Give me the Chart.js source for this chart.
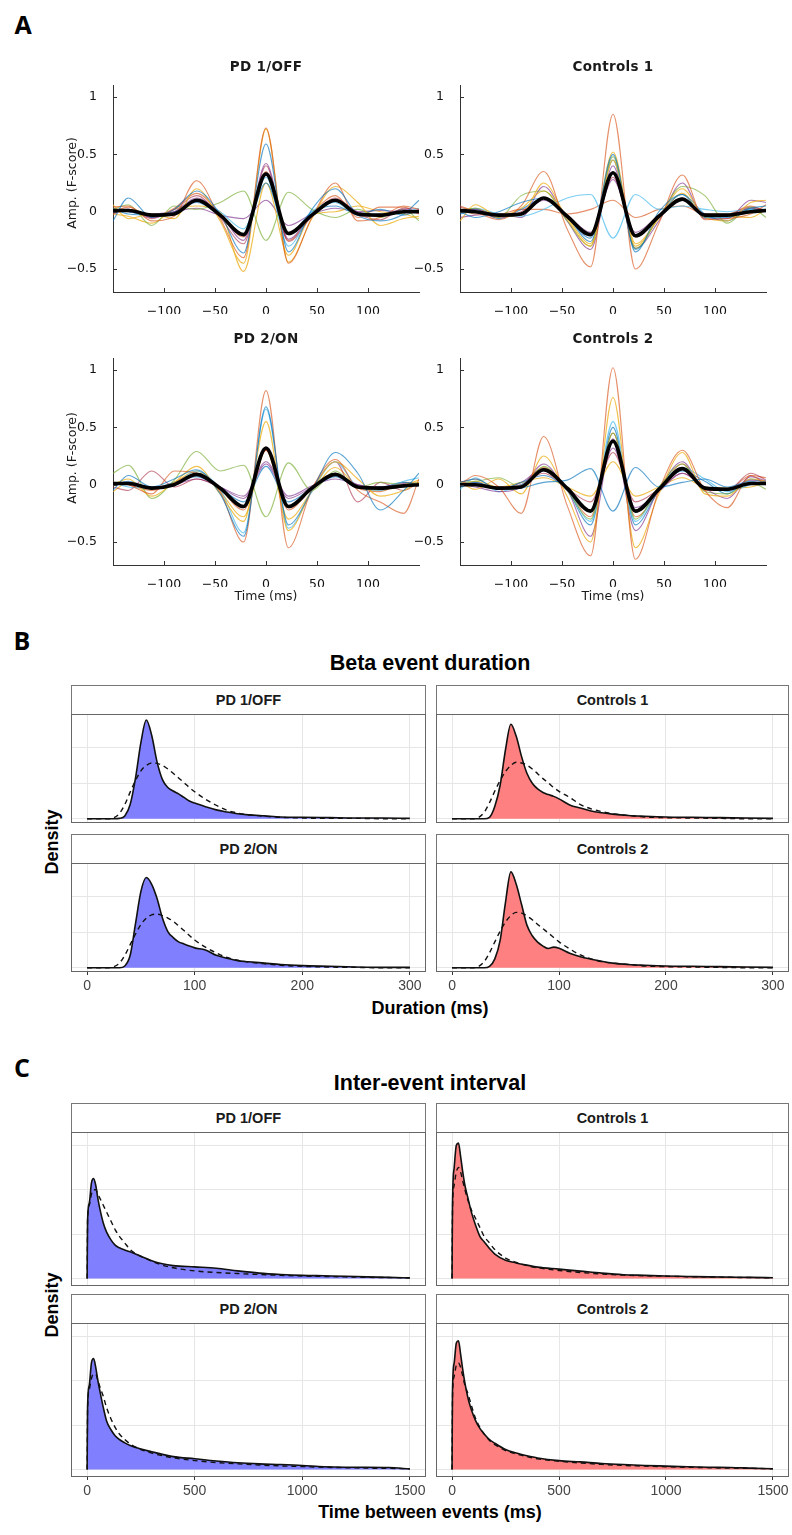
<!DOCTYPE html>
<html>
<head>
<meta charset="utf-8">
<script src="https://cdn.jsdelivr.net/npm/chart.js@4.4.0/dist/chart.umd.min.js"></script>
<style>
  html,body{margin:0;padding:0;background:#fff;}
  body{position:relative;width:792px;height:1535px;overflow:hidden;font-family:'Liberation Sans',Arial,sans-serif;}
  canvas{position:absolute;}
  .strip{position:absolute;box-sizing:border-box;background:#fff;border:1px solid #777;border-bottom:1px solid #222;
    font:bold 14.5px 'Liberation Sans',Arial,sans-serif;color:#1a1a1a;text-align:center;}
</style>
</head>
<body>
<script>
// ---- panel A: beta waveforms (time grid at the oscillation extrema) ----
const tA = [-150,-135,-112,-90,-68,-45,-22,0,22,45,68,90,112,135,150];
const aXTicks = [-100,-50,0,50,100];
const aYTicks = [-0.5,0,0.5,1];

const meanPd1 = [0.01,0.01,-0.03,-0.02,0.10,-0.03,-0.20,0.33,-0.19,-0.03,0.10,-0.02,-0.03,0.00,0.00];
const meanCon1 = [0.01,0.00,-0.03,-0.02,0.12,-0.04,-0.20,0.34,-0.21,-0.04,0.11,-0.03,-0.03,0.00,0.01];
const meanPd2 = [0.01,0.01,-0.03,0.00,0.09,-0.03,-0.19,0.32,-0.19,-0.03,0.09,-0.02,-0.03,-0.01,0.00];
const meanCon2 = [0.00,0.00,-0.03,-0.02,0.13,-0.03,-0.23,0.38,-0.23,-0.04,0.14,-0.03,-0.04,0.01,0.01];

const subjPd1 = [
  [-0.08,0.12,-0.05,0.02,0.18,-0.02,-0.36,0.59,-0.35,0.02,0.20,-0.03,-0.08,-0.02,0.10],
  [0.04,0.05,-0.08,-0.04,0.27,-0.06,-0.40,0.73,-0.45,-0.05,0.25,-0.08,-0.05,0.05,0.02],
  [0.06,-0.06,-0.02,-0.06,0.20,-0.08,-0.45,0.72,-0.44,-0.06,0.22,0.08,-0.12,-0.06,-0.04],
  [0.00,0.02,-0.05,0.00,0.12,-0.02,-0.25,0.42,-0.24,-0.02,0.10,0.00,-0.03,0.02,0.00],
  [0.02,0.06,-0.12,0.05,0.02,0.08,0.18,-0.25,0.17,0.02,-0.05,0.02,-0.05,0.02,-0.08],
  [0.02,0.00,-0.04,-0.02,0.10,0.00,-0.15,0.30,-0.30,0.00,0.08,-0.03,-0.02,0.00,0.03],
  [-0.02,0.02,-0.06,0.02,0.14,-0.05,-0.28,0.40,-0.26,-0.04,0.12,-0.02,-0.07,0.03,0.02],
  [0.03,-0.02,-0.03,0.00,0.08,-0.03,-0.20,0.25,-0.20,0.00,0.05,-0.02,0.02,-0.03,0.02],
  [0.00,0.04,-0.05,0.03,0.16,-0.02,-0.22,0.35,-0.25,-0.02,0.14,-0.05,0.04,0.04,-0.02],
  [-0.02,-0.04,-0.10,0.02,0.05,0.00,-0.52,0.25,-0.38,-0.03,0.00,0.05,0.00,-0.02,-0.06],
  [0.02,0.00,-0.02,0.00,0.03,-0.03,-0.06,0.10,-0.12,-0.02,0.03,0.00,0.01,0.00,0.01]
];
const subjCon1 = [
  [0.00,-0.05,0.00,0.08,0.12,-0.05,-0.23,0.50,-0.35,0.00,0.15,-0.05,-0.05,0.03,0.05],
  [0.05,0.00,-0.07,0.05,0.35,-0.15,-0.48,0.85,-0.50,-0.10,0.32,-0.07,-0.06,-0.02,0.06],
  [-0.08,0.06,-0.04,-0.03,0.25,-0.06,-0.30,0.45,-0.30,-0.05,0.20,-0.05,-0.08,0.08,0.10],
  [0.00,0.02,-0.03,-0.02,0.10,-0.03,-0.18,0.28,-0.18,-0.03,0.10,-0.02,-0.03,0.03,0.00],
  [0.02,0.03,-0.05,0.14,0.18,-0.08,-0.30,0.48,-0.32,-0.05,0.22,0.14,-0.10,0.04,-0.05],
  [0.00,0.03,-0.02,-0.04,0.02,0.12,0.15,-0.23,0.15,0.02,0.05,0.02,0.00,0.02,0.00],
  [0.04,0.00,-0.05,0.00,0.12,-0.03,-0.20,0.30,-0.22,-0.03,0.12,-0.04,-0.03,0.04,0.01],
  [-0.02,0.02,-0.06,0.02,0.12,-0.04,-0.26,0.45,-0.33,-0.04,0.15,-0.02,-0.08,0.02,0.02],
  [0.02,-0.02,-0.02,0.02,0.02,-0.02,0.02,0.10,-0.05,0.02,0.05,-0.02,-0.02,0.05,0.00],
  [0.00,0.03,-0.04,0.03,0.18,-0.05,-0.28,0.52,-0.28,-0.06,0.16,-0.05,-0.04,-0.05,0.02],
  [-0.05,-0.03,-0.02,-0.05,0.22,-0.08,-0.33,0.40,-0.32,-0.08,0.25,-0.06,-0.06,0.10,0.08]
];
const subjPd2 = [
  [-0.05,0.08,-0.02,0.05,0.13,-0.08,-0.45,0.68,-0.35,-0.05,0.28,0.10,-0.22,-0.05,0.10],
  [0.02,0.00,-0.08,0.12,0.10,-0.06,-0.50,0.82,-0.55,-0.04,0.22,-0.05,-0.15,-0.25,0.05],
  [0.00,0.05,-0.10,0.02,0.16,-0.08,-0.32,0.55,-0.40,-0.05,0.20,0.05,-0.10,-0.05,0.02],
  [0.00,0.02,-0.03,0.00,0.08,-0.02,-0.12,0.18,-0.12,-0.02,0.08,0.00,-0.02,0.00,0.00],
  [0.10,0.17,-0.12,0.04,0.29,0.12,0.17,-0.28,0.19,-0.05,0.12,-0.02,0.02,0.00,0.02],
  [0.02,-0.02,-0.03,0.00,0.12,-0.04,-0.42,0.66,-0.38,-0.06,0.20,-0.02,-0.05,0.03,0.06],
  [-0.02,-0.05,0.12,-0.02,0.05,-0.03,-0.20,0.30,-0.20,-0.02,0.20,-0.15,0.02,-0.05,0.02],
  [0.00,0.03,-0.03,0.02,0.07,-0.03,-0.15,0.16,-0.15,-0.03,0.07,-0.02,-0.02,0.02,0.00],
  [0.02,0.00,-0.05,0.02,0.10,-0.04,-0.22,0.30,-0.22,-0.03,0.10,-0.03,-0.06,0.02,0.01],
  [-0.06,0.02,-0.04,0.02,0.12,-0.06,-0.28,0.30,-0.30,-0.06,0.15,-0.02,-0.05,0.00,0.04],
  [0.00,0.01,-0.02,0.00,0.05,-0.02,-0.10,0.20,-0.10,-0.01,0.05,0.00,-0.02,0.01,0.00]
];
const subjCon2 = [
  [0.02,0.05,-0.04,-0.03,0.02,0.04,0.14,-0.23,0.15,-0.02,0.02,0.05,-0.02,0.03,0.00],
  [0.00,0.08,-0.02,-0.25,0.42,-0.18,-0.62,1.02,-0.65,-0.05,0.30,-0.05,-0.20,0.08,0.00],
  [0.02,-0.04,0.05,-0.08,0.25,-0.10,-0.50,0.76,-0.55,-0.08,0.28,-0.08,-0.10,0.05,0.03],
  [0.00,-0.02,-0.06,-0.02,0.18,-0.05,-0.22,0.32,-0.20,-0.06,0.10,-0.03,-0.12,0.07,0.03],
  [0.02,0.03,0.06,-0.02,0.16,-0.05,-0.30,0.45,-0.30,-0.02,0.18,-0.06,-0.08,0.02,-0.04],
  [-0.04,0.06,-0.06,0.00,0.12,-0.03,-0.32,0.55,-0.32,-0.02,0.15,0.05,-0.06,0.00,0.04],
  [0.03,0.00,-0.02,0.00,0.10,-0.03,-0.15,0.28,-0.15,-0.04,0.10,-0.02,-0.05,0.10,0.04],
  [-0.02,0.02,-0.04,0.02,0.08,-0.05,-0.35,0.50,-0.35,-0.05,0.12,0.03,-0.08,0.05,0.02],
  [0.02,0.05,-0.04,0.00,0.15,-0.04,-0.28,0.45,-0.28,-0.06,0.18,-0.05,-0.05,0.08,0.06],
  [0.00,0.03,-0.02,0.02,0.06,-0.02,-0.10,0.20,-0.10,-0.02,0.06,-0.02,-0.03,-0.02,0.02],
  [0.00,0.02,-0.04,0.02,0.14,-0.04,-0.45,0.40,-0.40,-0.04,0.20,-0.04,-0.05,0.04,0.03]
];

// ---- panel B: beta event duration densities ----
const bX = [0,20,25,30,35,40,45,50,55,60,65,70,75,80,85,90,95,100,110,120,130,140,150,165,180,200,225,250,275,300];
const bXTicks = [0,100,200,300];
const bYGrid = [0,0.01,0.02];
const bPd1 = [0,0,0,0.0001,0.0008,0.0040,0.0115,0.0215,0.0278,0.0235,0.0160,0.0110,0.0088,0.0078,0.0070,0.0060,0.0050,0.0044,0.0034,0.0025,0.0019,0.0014,0.0011,0.0008,0.0005,0.0004,0.0003,0.0002,0.0002,0.0001];
const bPd1Fit = [0,0,0.0003,0.0015,0.0040,0.0075,0.0108,0.0135,0.0150,0.0157,0.0156,0.0150,0.0140,0.0128,0.0115,0.0102,0.0088,0.0076,0.0055,0.0038,0.0024,0.0016,0.0011,0.0007,0.0004,0.0002,0.0001,0.0001,0,0];
const bCon1 = [0,0,0,0,0.0004,0.0035,0.0095,0.0195,0.0266,0.0232,0.0175,0.0128,0.0100,0.0084,0.0074,0.0068,0.0063,0.0056,0.0039,0.0030,0.0022,0.0017,0.0013,0.0009,0.0007,0.0005,0.0004,0.0003,0.0002,0.0001];
const bCon1Fit = [0,0,0.0004,0.0018,0.0045,0.0078,0.0108,0.0133,0.0150,0.0159,0.0157,0.0151,0.0140,0.0127,0.0113,0.0101,0.0088,0.0077,0.0060,0.0040,0.0028,0.0020,0.0014,0.0009,0.0005,0.0003,0.0002,0.0001,0,0];
const bPd2 = [0,0,0,0,0.0005,0.0035,0.0125,0.0215,0.0254,0.0235,0.0195,0.0140,0.0102,0.0085,0.0073,0.0067,0.0061,0.0056,0.0050,0.0035,0.0027,0.0020,0.0017,0.0013,0.0009,0.0006,0.0004,0.0002,0.0001,0.0001];
const bPd2Fit = [0,0,0.0003,0.0013,0.0035,0.0065,0.0095,0.0122,0.0140,0.0149,0.0151,0.0147,0.0140,0.0131,0.0118,0.0105,0.0091,0.0078,0.0058,0.0042,0.0029,0.0021,0.0016,0.0011,0.0007,0.0004,0.0002,0.0001,0,0];
const bCon2 = [0,0,0,0,0.0004,0.0025,0.0078,0.0185,0.0270,0.0235,0.0178,0.0120,0.0090,0.0072,0.0061,0.0054,0.0058,0.0055,0.0041,0.0031,0.0024,0.0018,0.0013,0.0009,0.0007,0.0005,0.0004,0.0003,0.0002,0.0001];
const bCon2Fit = [0,0,0.0004,0.0017,0.0042,0.0073,0.0103,0.0129,0.0147,0.0156,0.0154,0.0146,0.0135,0.0122,0.0110,0.0098,0.0085,0.0073,0.0053,0.0036,0.0025,0.0017,0.0013,0.0009,0.0005,0.0003,0.0002,0.0001,0,0];

// ---- panel C: inter-event interval densities ----
const cX = [0,2,10,20,30,40,50,60,75,90,110,130,150,175,200,250,300,350,400,500,600,700,800,900,1000,1100,1200,1300,1400,1500];
const cXTicks = [0,500,1000,1500];
const cYGrid = [0,0.002,0.004,0.006];
const cPd1 = [0,0.0026,0.0034,0.0043,0.0045,0.0042,0.0036,0.0031,0.0025,0.0021,0.00175,0.0015,0.00138,0.00128,0.0012,0.001,0.0008,0.00066,0.00058,0.00052,0.00046,0.00034,0.00024,0.00018,0.00014,0.00012,0.0001,0.00007,0.00005,0.00002];
const cPd1Fit = [0,0.0026,0.0033,0.0038,0.0040,0.0040,0.0038,0.0036,0.0033,0.0030,0.0026,0.0022,0.0019,0.0016,0.0013,0.0010,0.00078,0.0006,0.00048,0.00034,0.00027,0.00022,0.00018,0.00014,0.00011,0.00009,0.00007,0.00005,0.00004,0.00003];
const cCon1 = [0,0.0033,0.0050,0.0060,0.0061,0.0055,0.0048,0.0042,0.0036,0.0030,0.0024,0.0019,0.00165,0.00135,0.0011,0.00082,0.0007,0.0006,0.00051,0.00042,0.00033,0.00024,0.00017,0.00014,0.00011,0.00009,0.00007,0.00006,0.00005,0.00003];
const cCon1Fit = [0,0.0030,0.0042,0.0048,0.0050,0.0048,0.0044,0.0040,0.0035,0.0031,0.0027,0.0023,0.0019,0.0016,0.0013,0.00092,0.00072,0.00058,0.00048,0.00036,0.00027,0.0002,0.00015,0.00012,0.0001,0.00008,0.00007,0.00005,0.00004,0.00003];
const cPd2 = [0,0.0028,0.0038,0.0048,0.0050,0.0046,0.0040,0.0035,0.0028,0.0022,0.0018,0.00152,0.00135,0.0012,0.00108,0.00092,0.0008,0.00068,0.00058,0.00048,0.00038,0.0003,0.00025,0.00022,0.00018,0.00012,0.0001,0.0001,0.00009,0.00002];
const cPd2Fit = [0,0.0027,0.0036,0.0041,0.0043,0.0043,0.0040,0.0037,0.0033,0.0028,0.0023,0.0019,0.0016,0.00135,0.00115,0.0009,0.00074,0.00062,0.00052,0.0004,0.00031,0.00025,0.0002,0.00016,0.00013,0.0001,0.00008,0.00006,0.00005,0.00003];
const cCon2 = [0,0.0035,0.0048,0.0057,0.0058,0.0052,0.0045,0.0039,0.0032,0.0027,0.0022,0.00185,0.0016,0.00135,0.00118,0.0009,0.00074,0.00062,0.00052,0.0004,0.00034,0.00027,0.00022,0.00018,0.00015,0.00012,0.0001,0.00009,0.00006,0.00003];
const cCon2Fit = [0,0.0032,0.0042,0.0047,0.0048,0.0046,0.0042,0.0038,0.0034,0.0029,0.0023,0.0019,0.0016,0.0013,0.00112,0.00085,0.0007,0.00058,0.00048,0.00037,0.00029,0.00023,0.00018,0.00015,0.00012,0.0001,0.00008,0.00006,0.00005,0.00003];

const groupNames = ['PD 1/OFF','Controls 1','PD 2/ON','Controls 2'];

// ---- helpers ----
const traceCols = ['rgba(0,114,189,0.65)','rgba(217,83,25,0.65)','rgba(237,177,32,0.8)','rgba(126,47,142,0.65)',
  'rgba(119,172,48,0.65)','rgba(77,190,238,0.75)','rgba(162,20,47,0.55)'];
const pdFill = 'rgba(128,128,255,1)';
const conFill = 'rgba(255,128,128,1)';

const pts = (xs, ys)=> xs.map((x,i)=>({x, y: ys[i]}));
const fixTicks = (vals)=> (s)=>{ s.ticks = vals.map(v=>({value:v})); };

function addCanvas(left, top, w, h){
  const c = document.createElement('canvas');
  c.width = w; c.height = h;
  c.style.left = left + 'px'; c.style.top = top + 'px';
  document.body.appendChild(c);
  return c;
}

function label(text, x, y, css, rot){
  const d = document.createElement('div');
  d.textContent = text;
  d.style.cssText = 'position:absolute;white-space:nowrap;left:'+x+'px;top:'+y+'px;transform:translate(-50%,-50%)'+(rot?' rotate(-90deg)':'')+';'+css;
  document.body.appendChild(d);
}

function strip(text, left, top, w){
  const d = document.createElement('div');
  d.className = 'strip';
  d.textContent = text;
  d.style.cssText = 'left:'+left+'px;top:'+top+'px;width:'+w+'px;height:30px;line-height:28px;';
  document.body.appendChild(d);
}

// MATLAB-like inward ticks
const inTicks = {
  id: 'inTicks',
  afterDraw(chart){
    const {ctx, chartArea:a, scales:{x, y}} = chart;
    ctx.save();
    ctx.strokeStyle = '#333'; ctx.lineWidth = 1;
    ctx.beginPath();
    x.ticks.forEach(t=>{ const px = Math.round(x.getPixelForValue(t.value)) + 0.5; ctx.moveTo(px, a.bottom); ctx.lineTo(px, a.bottom - 4); });
    y.ticks.forEach(t=>{ const py = Math.round(y.getPixelForValue(t.value)) + 0.5; ctx.moveTo(a.left, py); ctx.lineTo(a.left + 4, py); });
    ctx.stroke();
    ctx.restore();
  }
};

// ggplot panel border
const panelBox = {
  id: 'panelBox',
  afterDraw(chart){
    const {ctx, chartArea:a} = chart;
    ctx.save();
    ctx.strokeStyle = '#666'; ctx.lineWidth = 1;
    ctx.strokeRect(a.left + 0.5, a.top + 0.5, a.width - 1, a.height - 1);
    ctx.restore();
  }
};

const minusFmt = (v)=> String(v).replace('-', '\u2212');

function waveChart(left, top, traces, mean){
  const cv = addCanvas(left, top, 365, 245);
  const datasets = [{data: pts(tA, mean), borderColor:'#000', borderWidth:3.6}];
  traces.forEach((tr, i)=> datasets.push({data: pts(tA, tr), borderColor: traceCols[i % traceCols.length], borderWidth: 1.1}));
  const tickFont = {family:'DejaVu Sans', size:12.5};
  new Chart(cv, {
    type: 'line',
    data: {datasets},
    options: {
      responsive: false, animation: false,
      layout: {padding: {left:0, top:7, right:6, bottom:1}},
      plugins: {legend:{display:false}, tooltip:{enabled:false}},
      elements: {point:{radius:0}, line:{cubicInterpolationMode:'monotone'}},
      scales: {
        x: {type:'linear', min:-150, max:150, afterBuildTicks: fixTicks(aXTicks),
            grid:{display:false}, border:{display:true, color:'#333', width:1},
            ticks:{padding:4, color:'#111', font:tickFont, callback:minusFmt},
            afterFit:(s)=>{ s.height = 22; }},
        y: {type:'linear', min:-0.7, max:1.1, afterBuildTicks: fixTicks(aYTicks),
            grid:{display:false}, border:{display:true, color:'#333', width:1},
            ticks:{padding:8, color:'#111', font:tickFont, callback:minusFmt},
            afterFit:(s)=>{ s.width = 53; }}
      }
    },
    plugins: [inTicks]
  });
}

function densChart(left, top, w, h, xs, solid, fit, fillCol, xr, yr, xTicks, yGrid, bottomRow){
  const cv = addCanvas(left, top, w + 20, h + (bottomRow ? 22 : 0));
  new Chart(cv, {
    type: 'line',
    data: {datasets: [
      {data: pts(xs, fit), borderColor:'#111', borderWidth:1.4, borderDash:[5,4], fill:false},
      {data: pts(xs, solid), borderColor:'#111', borderWidth:1.6, fill:'origin', backgroundColor: fillCol}
    ]},
    options: {
      responsive: false, animation: false,
      layout: {padding: {left:0, top:0, right:20, bottom:0}},
      plugins: {legend:{display:false}, tooltip:{enabled:false}},
      elements: {point:{radius:0}, line:{cubicInterpolationMode:'monotone'}},
      scales: {
        x: {type:'linear', min:xr[0], max:xr[1], afterBuildTicks: fixTicks(xTicks),
            grid:{color:'#e6e6e6', lineWidth:1, drawTicks:bottomRow, tickLength:3, tickColor:'#333'},
            border:{display:false},
            ticks:{display:bottomRow, padding:3, color:'#444', font:{family:'Liberation Sans', size:14},
                   callback:(v)=> String(v)},
            afterFit:(s)=>{ s.height = bottomRow ? 22 : 0; }},
        y: {type:'linear', min:yr[0], max:yr[1], afterBuildTicks: fixTicks(yGrid),
            grid:{color:'#e6e6e6', lineWidth:1, drawTicks:false}, border:{display:false},
            ticks:{display:false}, afterFit:(s)=>{ s.width = 0; }}
      }
    },
    plugins: [panelBox]
  });
}

// ---- panel A ----
const titleA = "font:bold 13.5px 'DejaVu Sans',sans-serif;color:#1a1a1a;letter-spacing:0.3px;";
const axA = "font:12.5px 'DejaVu Sans',sans-serif;color:#1a1a1a;";
const letter = "font:bold 25px 'Open Sans','Liberation Sans',sans-serif;color:#000;";

label('A', 23, 24, letter);
waveChart(60, 70, subjPd1, meanPd1);
waveChart(407, 70, subjCon1, meanCon1);
waveChart(60, 343, subjPd2, meanPd2);
waveChart(407, 343, subjCon2, meanCon2);
label(groupNames[0], 266, 66, titleA);
label(groupNames[1], 613, 66, titleA);
label(groupNames[2], 266, 338, titleA);
label(groupNames[3], 613, 338, titleA);
label('Amp. (F-score)', 71, 183, axA, true);
label('Amp. (F-score)', 71, 458, axA, true);
label('Time (ms)', 266, 595, axA);
label('Time (ms)', 613, 595, axA);

// ---- panel B ----
const bigTitle = "font:bold 21.5px 'Liberation Sans',Arial,sans-serif;color:#000;";
const axTitle = "font:bold 18px 'Liberation Sans',Arial,sans-serif;color:#000;";
const bY = [-0.0012, 0.0295];
const bR = [-15, 315];

label('B', 22, 640, letter);
label('Beta event duration', 430, 663, bigTitle);
strip(groupNames[0], 71, 685, 355);
strip(groupNames[1], 436, 685, 353);
strip(groupNames[2], 71, 834, 355);
strip(groupNames[3], 436, 834, 353);
densChart(71, 714, 355, 109, bX, bPd1, bPd1Fit, pdFill, bR, bY, bXTicks, bYGrid, false);
densChart(436, 714, 353, 109, bX, bCon1, bCon1Fit, conFill, bR, bY, bXTicks, bYGrid, false);
densChart(71, 863, 355, 109, bX, bPd2, bPd2Fit, pdFill, bR, bY, bXTicks, bYGrid, true);
densChart(436, 863, 353, 109, bX, bCon2, bCon2Fit, conFill, bR, bY, bXTicks, bYGrid, true);
label('Density', 52, 842, axTitle, true);
label('Duration (ms)', 430, 1008, axTitle);

// ---- panel C ----
const cY = [-0.00034, 0.0066];
const cR = [-75, 1575];

label('C', 22, 1067, letter);
label('Inter-event interval', 430, 1083, bigTitle);
strip(groupNames[0], 71, 1103, 355);
strip(groupNames[1], 436, 1103, 353);
strip(groupNames[2], 71, 1294, 355);
strip(groupNames[3], 436, 1294, 353);
densChart(71, 1132, 355, 154, cX, cPd1, cPd1Fit, pdFill, cR, cY, cXTicks, cYGrid, false);
densChart(436, 1132, 353, 154, cX, cCon1, cCon1Fit, conFill, cR, cY, cXTicks, cYGrid, false);
densChart(71, 1323, 355, 154, cX, cPd2, cPd2Fit, pdFill, cR, cY, cXTicks, cYGrid, true);
densChart(436, 1323, 353, 154, cX, cCon2, cCon2Fit, conFill, cR, cY, cXTicks, cYGrid, true);
label('Density', 52, 1305, axTitle, true);
label('Time between events (ms)', 430, 1512, axTitle);
</script>
</body>
</html>
